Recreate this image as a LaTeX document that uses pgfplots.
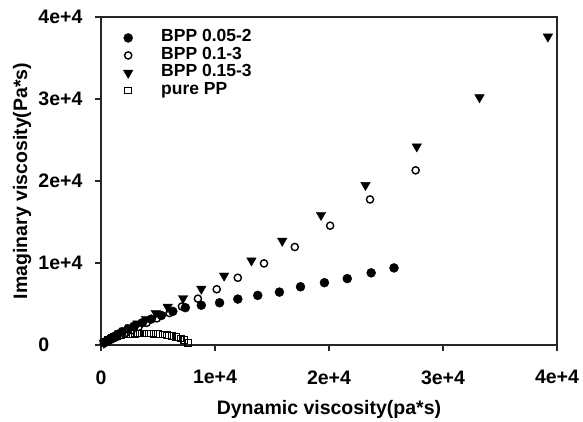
\documentclass[border=0pt]{standalone}
\usepackage{pgfplots}
\pgfplotsset{compat=1.18}
\usepackage{fontspec}
\setmainfont{Liberation Sans}
\begin{document}
\begin{tikzpicture}
\begin{axis}[
  scale only axis, width=456pt, height=328pt,
  xmin=0, xmax=40000, ymin=0, ymax=40000,
  xtick={0,10000,20000,30000,40000}, xticklabels={0,1e+4,2e+4,3e+4,4e+4},
  ytick={0,10000,20000,30000,40000}, yticklabels={0,1e+4,2e+4,3e+4,4e+4},
  scaled ticks=false,
  tick align=outside, tick pos=left, major tick length=6pt,
  axis line style={line width=1.3pt, black!85},
  every tick/.style={line width=1.3pt, black!85},
  tick label style={font=\bfseries\fontsize{19.5}{22}\selectfont},
  xticklabel style={yshift=-16pt},
  yticklabel style={anchor=east, text width=53pt, align=left},
  label style={font=\bfseries\fontsize{19.5}{22}\selectfont},
  xlabel={Dynamic viscosity(pa*s)},
  ylabel={Imaginary viscosity(Pa*s)},
  xlabel style={at={(axis description cs:0.5,0)}, anchor=base, yshift=-69pt},
  ylabel style={at={(axis description cs:-0.162,0.5)}, anchor=base},
  clip=false,
  legend cell align=left,
  legend style={draw=none, fill=none, at={(axis description cs:0,1)}, anchor=north west,
    xshift=22pt, yshift=-12pt, inner sep=0pt, row sep=0pt,
    font=\bfseries\fontsize{17.5}{18}\selectfont,
    nodes={inner ysep=1pt, text height=11.5pt, text depth=4pt}},
  legend image code/.code={\path[draw=none,fill=none] (-5pt,0pt) rectangle (31pt,0pt); \draw plot coordinates {(0pt,0pt)};},
]
\draw[line width=1.3pt, black!85] (rel axis cs:0,1) -- (rel axis cs:1,1) -- (rel axis cs:1,0);
\addplot[only marks, mark=*, mark size=4.5pt, black] coordinates {
(25700,9400) (23700,8800) (21600,8100) (19600,7600) (17500,7100) (15650,6450) (13750,6050) (12000,5600) (10400,5150) (8800,4850) (7400,4550) (6300,4100) (5300,3600) (4400,3150) (3600,2700) (2900,2300) (2350,1950) (1850,1600) (1450,1300) (1100,1000) (850,780) (650,600) (480,450) (350,330)
};
\addlegendentry{BPP 0.05-2}
\addplot[only marks, mark=o, mark size=3.6pt, line width=1.4pt, black, mark options={fill=white}] coordinates {
(27600,21300) (23600,17750) (20100,14550) (17000,11950) (14300,9950) (12000,8200) (10150,6800) (8500,5650) (7100,4700) (6000,3900) (4900,3250) (4000,2700) (3300,2200) (2700,1800) (2200,1500) (1750,1200) (1400,1000) (1100,800) (850,650) (650,500) (500,400) (350,300) (250,220)
};
\addlegendentry{BPP 0.1-3}
\addplot[only marks, mark=triangle*, mark size=5.5pt, black, mark options={rotate=180}] coordinates {
(39200,37600) (33200,30200) (27700,24200) (23200,19500) (19300,15850) (15900,12700) (13200,10300) (10800,8450) (8800,6850) (7200,5700) (5850,4650) (4800,3900) (3950,3170) (3200,2600) (2550,2160) (2050,1750) (1600,1400) (1250,1100) (950,850) (700,650) (500,480) (350,350) (250,250)
};
\addlegendentry{BPP 0.15-3}
\addplot[only marks, mark=square, mark size=3.3pt, line width=1.2pt, black, mark options={fill=white}] coordinates {
(300,300) (600,650) (1000,900) (1400,1080) (1800,1200) (2200,1290) (2600,1350) (3000,1390) (3400,1410) (3800,1410) (4200,1400) (4600,1370) (5000,1330) (5400,1270) (5800,1190) (6200,1090) (6600,960) (7000,800) (7300,600) (7650,250)
};
\addlegendentry{pure PP}
\end{axis}
\path (-101pt,-77pt) (482pt,345pt);
\end{tikzpicture}
\end{document}
